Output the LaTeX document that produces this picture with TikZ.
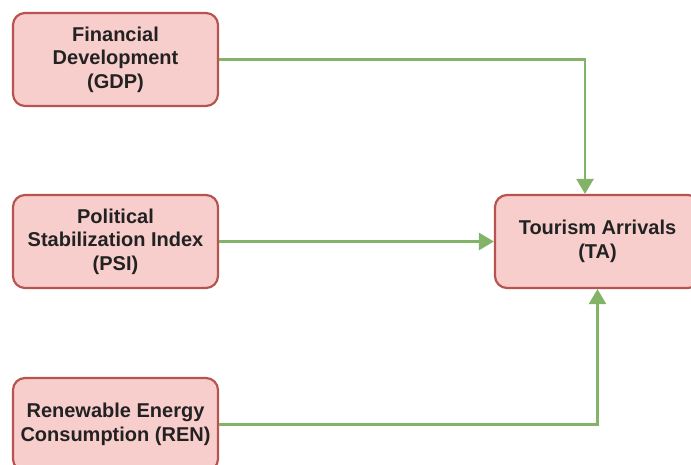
\documentclass[tikz,border=0pt]{standalone}
\usepackage{fontspec}
\setmainfont{Liberation Sans}
\usetikzlibrary{arrows.meta}
\definecolor{boxfill}{HTML}{F8CECC}
\definecolor{boxline}{HTML}{B85450}
\definecolor{linkgreen}{HTML}{82B366}
\definecolor{textgray}{HTML}{222222}

\begin{document}
\begin{tikzpicture}[x=1pt,y=-1pt,
	varbox/.style={draw=boxline, fill=boxfill, line width=2.2pt, rounded corners=12pt,
		minimum width=205pt, minimum height=93pt, align=center, text=textgray,
		font=\fontsize{20}{23.5}\selectfont\bfseries},
	link/.style={draw=linkgreen, line width=2.6pt, -{Triangle[length=15pt,width=17pt]}}]
	\useasboundingbox (0,0) rectangle (691,464);
	\node[varbox] (gdp) at (115.5,59.5) {Financial\\Development\\(GDP)};
	\node[varbox] (psi) at (115.5,241.5) {Political\\Stabilization Index\\(PSI)};
	\node[varbox] (ren) at (115.5,424.5) {Renewable Energy\\Consumption (REN)};
	\node[varbox] (ta) at (597.5,241.5) {Tourism Arrivals\\(TA)};
	\draw[link] (gdp.east) -| ([xshift=-12.5pt]ta.north);
	\draw[link] (psi.east) -- (ta.west);
	\draw[link] (ren.east) -| (ta.south);
\end{tikzpicture}
\end{document}
